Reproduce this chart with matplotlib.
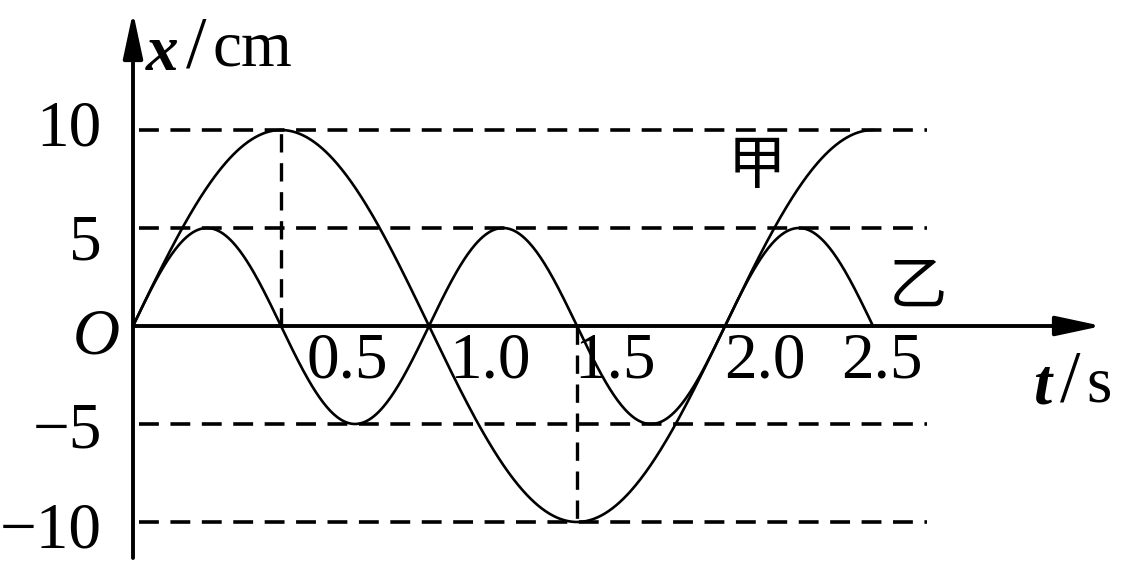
import numpy as np
import matplotlib.pyplot as plt

# --- wave parameters ---
amp_jia = 10.0     # cm
period_jia = 2.0   # s
amp_yi = 5.0       # cm
period_yi = 1.0    # s
t_end = 2.5        # s

t_ticks = [0.5, 1.0, 1.5, 2.0, 2.5]
t_labels = ["0.5", "1.0", "1.5", "2.0", "2.5"]
y_ticks = [10, 5, -5, -10]
y_labels = ["10", "5", "\u22125", "\u221210"]

# --- pixel layout ---
W, H = 1137, 577
X0, Y0 = 133, 326        # origin in pixels
SX, SY = 296.0, 19.6     # px per s, px per cm


def px(xp, yp):
    # pixel (from top-left) -> data coords
    return (xp - X0) / SX, (Y0 - yp) / SY


fig = plt.figure(figsize=(W / 100, H / 100), dpi=100)
ax = fig.add_axes([0, 0, 1, 1])
ax.set_xlim(px(0, 0)[0], px(W, 0)[0])
ax.set_ylim(px(0, H)[1], px(0, 0)[1])
ax.axis("off")

serif = "Liberation Serif"
fs = 47

# dashed guide lines
dash = (0, (5.5, 3.2))
t_dash_end = px(927, 0)[0]
for yv in y_ticks:
    ax.plot([0.02, t_dash_end], [yv, yv], color="black", lw=2.6, ls=dash)
ax.plot([period_jia / 4, period_jia / 4], [0, amp_jia], color="black", lw=2.4, ls=dash)
ax.plot([3 * period_jia / 4, 3 * period_jia / 4], [0, -amp_jia], color="black", lw=2.4, ls=dash)

# curves
t = np.linspace(0, t_end, 600)
ax.plot(t, amp_jia * np.sin(2 * np.pi * t / period_jia), color="black", lw=1.9)
ax.plot(t, amp_yi * np.sin(2 * np.pi * t / period_yi), color="black", lw=1.9)

# axes with arrows
arrow = dict(arrowstyle="-|>,head_length=1.4,head_width=0.3", lw=2.8,
             color="black", shrinkA=0, shrinkB=0, mutation_scale=20)
ax.annotate("", xy=px(1102, Y0), xytext=(0, 0), arrowprops=arrow)
ax.annotate("", xy=px(X0, 12), xytext=px(X0, 558), arrowprops=arrow)

# tick labels
y_nudge = [0, 16, 8, 10]
for yv, lab, dn in zip(y_ticks, y_labels, y_nudge):
    ax.text(px(102, 0)[0], yv - dn / SY, lab, fontsize=fs, family=serif,
            ha="right", va="center")

t_offsets = [66, 61, 38, 40, 9]
for tv, lab, off in zip(t_ticks, t_labels, t_offsets):
    ax.text(tv + off / SX, px(0, 362)[1], lab, fontsize=fs, family=serif,
            ha="center", va="center")

ax.text(*px(96, 338), "O", fontsize=fs, family=serif, style="italic",
        ha="center", va="center")

# axis titles
ax.text(*px(146, 54), "x", fontsize=fs, family=serif, style="italic",
        weight="bold", ha="left", va="center")
ax.text(*px(196, 50), "/", fontsize=fs + 6, family=serif, ha="center", va="center")
ax.text(*px(213, 50), "cm", fontsize=fs, family=serif, ha="left", va="center")
ax.text(*px(1033, 388), "t", fontsize=fs, family=serif, style="italic",
        weight="bold", ha="left", va="center")
ax.text(*px(1070, 384), "/", fontsize=fs + 6, family=serif, ha="center", va="center")
ax.text(*px(1086, 386), "s", fontsize=fs, family=serif, ha="left", va="center")

# curve names
cjk = ["Noto Sans CJK SC", "DejaVu Sans"]
ax.text(*px(757, 166), "甲", fontsize=42, family=cjk, ha="center", va="center")
ax.text(*px(918, 287), "乙", fontsize=42, family=cjk, ha="center", va="center")

fig.savefig("out.png", dpi=100)
